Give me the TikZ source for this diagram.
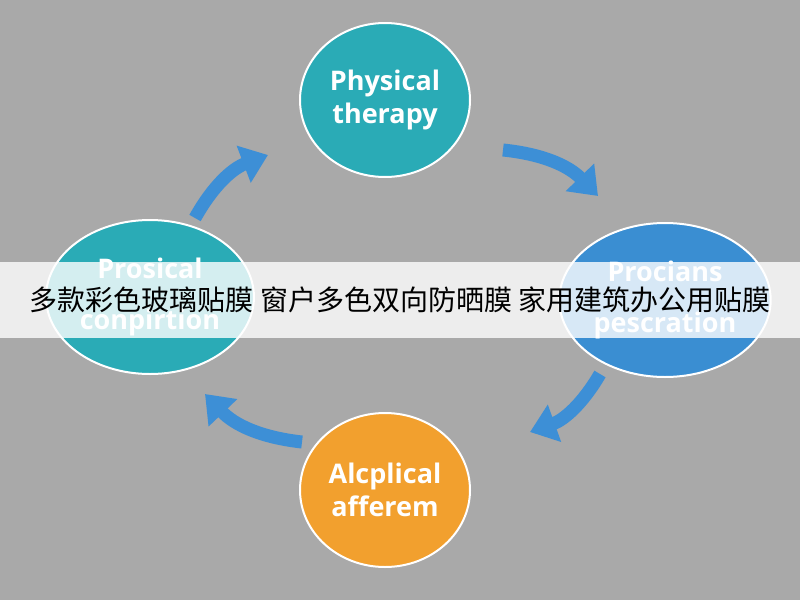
\documentclass[tikz,border=0pt]{standalone}
\usepackage{fontspec}
\setmainfont{Open Sans}
\newfontfamily\cjk{Noto Sans CJK SC}
\usetikzlibrary{arrows.meta,positioning,shapes.geometric}
\definecolor{bgray}{HTML}{A9A9A9}
\definecolor{tealc}{HTML}{2AABB6}
\definecolor{bluec}{HTML}{3A8ED2}
\definecolor{orangec}{HTML}{F2A02E}
\definecolor{arrowc}{HTML}{3D8FD6}
\begin{document}
\begin{tikzpicture}[x=1pt,y=-1pt,
  stage/.style={ellipse, minimum width=170pt, minimum height=154pt, draw=white, line width=2pt,
    text=white, font=\bfseries\fontsize{27}{33}\selectfont, align=center},
  cycle/.style={-{Triangle[length=26pt,width=38pt]}, line width=13pt, draw=arrowc}
  ]
  \fill[bgray] (0,0) rectangle (800,600);
  \useasboundingbox (0,0) rectangle (800,600);
  % the four stages
  \node[stage, fill=tealc] (top) at (385,100) {Physical\\therapy};
  \node[stage, fill=bluec] (right) at (665,300) {Procians\\[18pt]pescration};
  \node[stage, fill=tealc] (left) at (150,297) {Prosical\\[18pt]conpirtion};
  \node[stage, fill=orangec] (bottom) at (385,490) {Alcplical\\afferem};
  % arrow ends
  \coordinate (a1) at (195,218); \coordinate (b1) at (268,155);
  \coordinate (a2) at (503,150); \coordinate (b2) at (598,196);
  \coordinate (a3) at (600,374); \coordinate (b3) at (530,432);
  \coordinate (a4) at (302,442); \coordinate (b4) at (205,394);
  \draw[cycle] (a1) to[bend left=20] (b1);
  \draw[cycle] (a2) to[bend left=20] (b2);
  \draw[cycle] (a3) to[bend left=20] (b3);
  \draw[cycle] (a4) to[bend left=20] (b4);
  % banner
  \fill[white, opacity=0.8] (0,262) rectangle (800,338);
  \node[font=\cjk\fontsize{28}{32}\selectfont, text=black] (banner) at (400,300)
    {多款彩色玻璃贴膜 窗户多色双向防晒膜 家用建筑办公用贴膜};
\end{tikzpicture}
\end{document}
